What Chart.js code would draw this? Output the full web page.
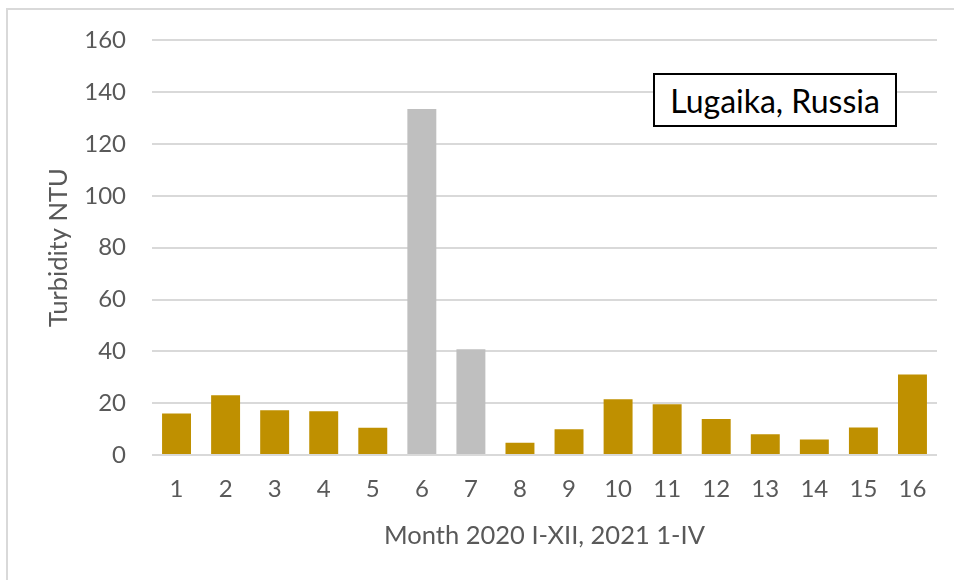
<!DOCTYPE html>
<html>
<head>
<meta charset="utf-8">
<script src="https://cdn.jsdelivr.net/npm/chart.js@4.4.1/dist/chart.umd.min.js"></script>
<style>
  html, body { margin: 0; padding: 0; background: #ffffff; }
  #wrap { position: relative; width: 954px; height: 580px; overflow: hidden; }
  #frame { position: absolute; left: 6px; top: 8px; width: 960px; height: 590px; border: 2px solid #d9d9d9; box-sizing: border-box; }
  #c { position: absolute; left: 0; top: 0; }
  #label { position: absolute; left: 653px; top: 73px; width: 244px; height: 54px; box-sizing: border-box;
           border: 2px solid #000; background: #fff; font-family: Lato, sans-serif; font-size: 32px; color: #000;
           display: flex; align-items: center; justify-content: center; white-space: nowrap; }
</style>
</head>
<body>
<div id="wrap">
  <div id="frame"></div>
  <canvas id="c" width="954" height="580"></canvas>
  <div id="label">Lugaika, Russia</div>
</div>
<script>
const months = ['1','2','3','4','5','6','7','8','9','10','11','12','13','14','15','16'];
const turbidity = [16.0, 23.1, 17.3, 16.9, 10.5, 133.5, 40.8, 4.7, 9.9, 21.5, 19.6, 13.9, 8.0, 6.0, 10.6, 31.1];
const grayMonths = ['6', '7'];
const yTicks = [0, 20, 40, 60, 80, 100, 120, 140, 160];
const xTitle = 'Month 2020 I-XII, 2021 1-IV';
const yTitle = 'Turbidity NTU';

const GOLD = '#BF9000';
const GRAY = '#BFBFBF';
const barColors = months.map(m => grayMonths.includes(m) ? GRAY : GOLD);

new Chart(document.getElementById('c'), {
  type: 'bar',
  data: {
    labels: months,
    datasets: [{
      label: yTitle,
      data: turbidity,
      backgroundColor: barColors,
      borderWidth: 0,
      barPercentage: 0.59,
      categoryPercentage: 1.0
    }]
  },
  options: {
    responsive: false,
    animation: false,
    layout: { padding: { top: 39, right: 17, bottom: 0, left: 0 } },
    plugins: { legend: { display: false }, tooltip: { enabled: false } },
    scales: {
      x: {
        grid: { display: false, drawTicks: false },
        border: { display: false },
        ticks: { color: '#595959', font: { family: 'Lato', size: 24 }, padding: 20, maxRotation: 0 },
        title: { display: true, text: xTitle, color: '#595959', font: { family: 'Lato', size: 25.5 }, padding: { top: 0, bottom: 29 } },
        afterFit: s => { s.height = 125; }
      },
      y: {
        min: 0, max: 160,
        afterBuildTicks: s => { s.ticks = yTicks.map(v => ({ value: v })); },
        grid: { color: '#d9d9d9', lineWidth: 2, drawTicks: false },
        border: { display: false },
        ticks: { color: '#595959', font: { family: 'Lato', size: 24 }, padding: 26 },
        title: { display: true, text: yTitle, color: '#595959', font: { family: 'Lato', size: 25.5 }, padding: { top: 43, bottom: 0 } },
        afterFit: s => { s.width = 152; }
      }
    }
  }
});
</script>
</body>
</html>
